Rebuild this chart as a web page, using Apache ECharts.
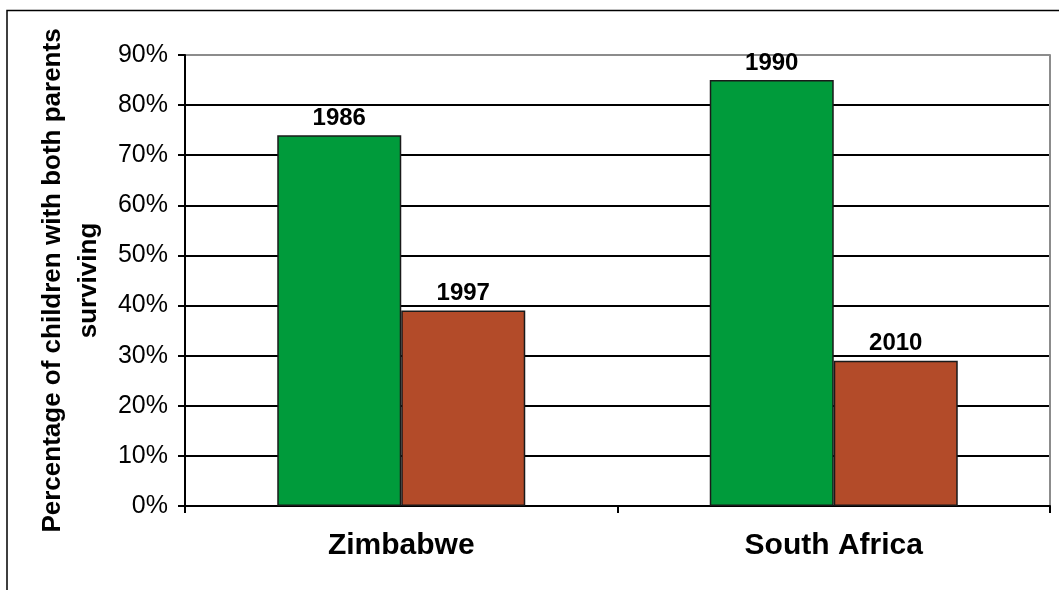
<!DOCTYPE html>
<html>
<head>
<meta charset="utf-8">
<script src="https://cdn.jsdelivr.net/npm/echarts@6/dist/echarts.min.js"></script>
<style>
  body { margin: 0; padding: 0; background: #fff; }
  #main { width: 1059px; height: 590px; }
</style>
</head>
<body>
<div id="main"></div>
<script>
  // 数据
  var countries = ['Zimbabwe', 'South Africa'];
  var firstSurvey = [74, 85];        // green bars
  var firstYears = ['1986', '1990'];
  var secondSurvey = [39, 29];       // red bars
  var secondYears = ['1997', '2010'];
  var yTicks = [0, 10, 20, 30, 40, 50, 60, 70, 80, 90];

  var chart = echarts.init(document.getElementById('main'));
  var font = 'Liberation Sans, Arial, sans-serif';

  // top gridline is grey (plot border), the rest black
  var splitColors = yTicks.map(function (v, i) { return i === yTicks.length - 1 ? '#8c8c8c' : '#000'; });

  var option = {
    animation: false,
    textStyle: { fontFamily: font },
    graphic: [{
      type: 'rect',
      shape: { x: 7, y: 10.5, width: 1200, height: 800 },
      style: { fill: 'none', stroke: '#000', lineWidth: 1.5 }
    }],
    grid: { left: 185, right: 9, top: 55, bottom: 84 },
    xAxis: {
      type: 'category',
      data: countries,
      axisLine: { lineStyle: { color: '#000', width: 2 } },
      axisTick: { show: true, length: 7, lineStyle: { color: '#000', width: 2 } },
      axisLabel: { margin: 25, fontSize: 30, fontWeight: 'bold', color: '#000', fontFamily: font }
    },
    yAxis: [{
      type: 'value',
      min: yTicks[0],
      max: yTicks[yTicks.length - 1],
      interval: 10,
      name: 'Percentage of children with both parents\nsurviving',
      nameLocation: 'middle',
      nameRotate: 90,
      nameGap: 78,
      nameTextStyle: { fontSize: 26, fontWeight: 'bold', color: '#000', lineHeight: 36, fontFamily: font },
      axisLine: { show: true, lineStyle: { color: '#000', width: 2 } },
      axisTick: { show: true, length: 7, lineStyle: { color: '#000', width: 2 } },
      axisLabel: { formatter: '{value}%', margin: 17, fontSize: 25, color: '#000', fontFamily: font },
      splitLine: { show: true, lineStyle: { color: splitColors, width: 2 } }
    }, {
      type: 'value',
      position: 'right',
      min: 0, max: 90, interval: 10,
      axisLine: { show: true, lineStyle: { color: '#8c8c8c', width: 2 } },
      axisTick: { show: false },
      axisLabel: { show: false },
      splitLine: { show: false }
    }],
    series: [{
      type: 'bar',
      data: firstSurvey,
      barWidth: 124,
      barGap: '0%',
      itemStyle: { color: '#009B3B', borderColor: '#1a1a1a', borderWidth: 1.5 },
      label: {
        show: true, position: 'top', distance: 5,
        fontSize: 24, fontWeight: 'bold', color: '#000', fontFamily: font,
        formatter: function (p) { return firstYears[p.dataIndex]; }
      }
    }, {
      type: 'bar',
      data: secondSurvey,
      barWidth: 124,
      barGap: '0%',
      itemStyle: { color: '#B34B29', borderColor: '#1a1a1a', borderWidth: 1.5 },
      label: {
        show: true, position: 'top', distance: 5,
        fontSize: 24, fontWeight: 'bold', color: '#000', fontFamily: font,
        formatter: function (p) { return secondYears[p.dataIndex]; }
      }
    }]
  };
  chart.setOption(option);
</script>
</body>
</html>
